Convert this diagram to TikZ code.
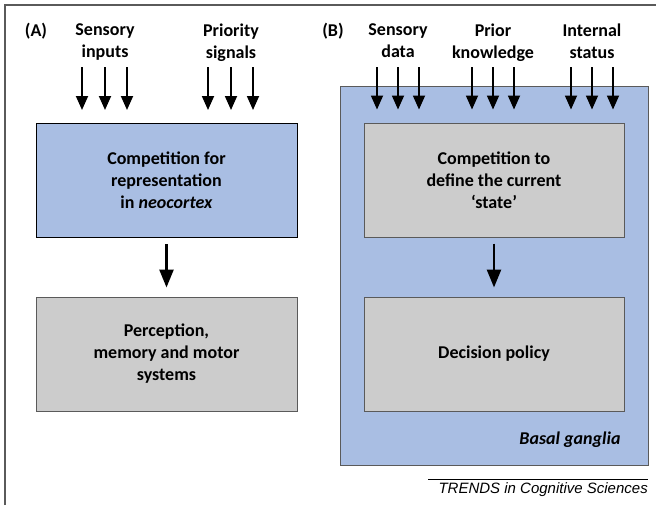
\documentclass[tikz,border=0pt]{standalone}
\usepackage{fontspec}
\setmainfont{Carlito}
\newfontfamily\creditfont{Liberation Sans}
\usetikzlibrary{arrows.meta,positioning}
\definecolor{cortexblue}{HTML}{A9BEE3}
\definecolor{stategray}{HTML}{CCCCCC}
\definecolor{edgegray}{HTML}{5A5A5A}
\begin{document}
\begin{tikzpicture}[x=1pt,y=-1pt,
	every node/.style={font=\fontsize{18}{22}\selectfont\bfseries,align=center},
	box/.style={draw=edgegray,line width=1pt,minimum width=261pt,minimum height=114pt,inner sep=0},
	arr/.style={-{Triangle[length=14pt,width=12pt]},line width=1.8pt},
	bigarr/.style={-{Triangle[length=18pt,width=14pt]},line width=2.6pt,shorten <=6pt,shorten >=9pt}]
\useasboundingbox (0,0) rectangle (656,509);
% frame
\draw[edgegray,line width=1.6pt] (5,505) -- (5,5) -- (656,5);
\coordinate (arrtop) at (0,67);
% (A) neocortex
\node[anchor=north] (labA) at (36,20) {(A)};
\node[anchor=north] (sens) at (105,20) {Sensory\\inputs};
\node[anchor=north] (prio) at (231,20) {Priority\\signals};
\node[box,fill=cortexblue,draw=black] (comp) at (166.5,180.5) {Competition for\\representation\\in \textit{neocortex}};
\node[box,fill=stategray] (percep) at (166.5,354) {Perception,\\memory and motor\\systems};
\foreach \src in {sens,prio}
	\foreach \dx in {-23,0,22}
		\draw[arr,shorten >=13pt] ([xshift=\dx pt]\src.south |- arrtop) -- ([xshift=\dx pt]\src.south |- comp.north);
\draw[bigarr] (comp) -- (percep);
% (B) basal ganglia
\node[anchor=north] (labB) at (333,20) {(B)};
\node[box,fill=cortexblue,minimum width=308pt,minimum height=379pt] (bg) at (494,275.5) {};
\node[font=\fontsize{18}{22}\selectfont\bfseries\itshape,anchor=east] (bgname) at (624,440) {Basal ganglia};
\node[anchor=north] (sdata) at (398,20) {Sensory\\data};
\node[anchor=north] (prior) at (493,20) {Prior\\knowledge};
\node[anchor=north] (intern) at (592,20) {Internal\\status};
\node[box,fill=stategray,minimum width=260pt] (state) at (494,180) {Competition to\\define the current\\`state'};
\node[box,fill=stategray,minimum width=260pt] (policy) at (494,354) {Decision policy};
\foreach \src in {sdata,prior,intern}
	\foreach \dx in {-21,0,21}
		\draw[arr,shorten >=13pt] ([xshift=\dx pt]\src.south |- arrtop) -- ([xshift=\dx pt]\src.south |- state.north);
\draw[bigarr] (state) -- (policy);
% credit line
\coordinate (rl) at (428,479);
\coordinate (rr) at (648,479);
\draw[line width=0.8pt] (rl) -- (rr);
\node[font=\creditfont\itshape\fontsize{15}{18}\selectfont,anchor=north east,inner sep=0] (credit) at ([yshift=-3pt]rr) {TRENDS in Cognitive Sciences};
\end{tikzpicture}
\end{document}
